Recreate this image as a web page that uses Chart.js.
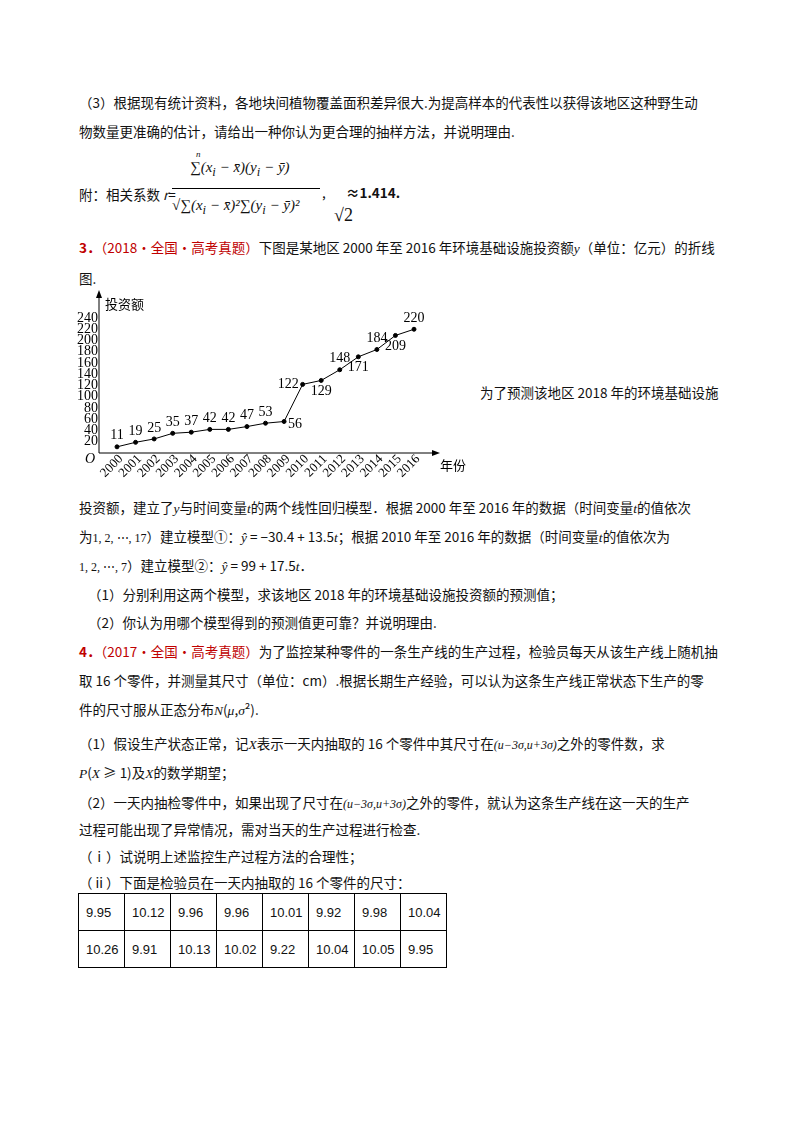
<!DOCTYPE html>
<html><head><meta charset="utf-8">
<script src="https://cdn.jsdelivr.net/npm/chart.js@4"></script>
<style>
body{margin:0;width:800px;height:1132px;background:#fff;font-family:"Noto Sans CJK SC","Noto Sans",sans-serif;color:#111;position:relative;overflow:hidden}
.t{position:absolute;font-size:13.5px;white-space:nowrap;line-height:1}
.m{font-family:"Liberation Serif",serif;font-style:italic}
.red{color:#c00000}
table{position:absolute;left:78px;top:893px;border-collapse:collapse;font-size:13px;font-family:"Liberation Sans",sans-serif}
td{border:1px solid #000;width:38px;height:36px;padding:0 0 0 7px}
#wrap{position:absolute;left:75px;top:290px;width:400px;height:200px}
</style></head><body>
<div class="t" style="left:79px;top:96px">（3）根据现有统计资料，各地块间植物覆盖面积差异很大.为提高样本的代表性以获得该地区这种野生动</div>
<div class="t" style="left:79px;top:125px">物数量更准确的估计，请给出一种你认为更合理的抽样方法，并说明理由.</div>
<div class="t" style="left:79px;top:188px">附：相关系数 <i>r</i>=</div>
<div class="t m" style="left:190px;top:160px;font-size:15px">∑(x<sub>i</sub> − x̄)(y<sub>i</sub> − ȳ)</div>
<div class="t m" style="left:196px;top:150px;font-size:9px">n</div>
<div style="position:absolute;left:172px;top:188px;width:148px;border-top:1px solid #000"></div>
<div class="t m" style="left:172px;top:198px;font-size:15px">√∑(x<sub>i</sub> − x̄)²∑(y<sub>i</sub> − ȳ)²</div>
<div class="t" style="left:322px;top:186px">,</div>
<div class="t" style="left:346px;top:186px;font-weight:bold">≈1.414.</div>
<div class="t m" style="left:334px;top:206px;font-size:18px;font-style:normal">√2</div>
<div class="t" style="left:79px;top:241px"><b class="red">3．</b><span class="red">（2018·全国·高考真题）</span>下图是某地区 2000 年至 2016 年环境基础设施投资额<span class="m">y</span>（单位：亿元）的折线</div>
<div class="t" style="left:79px;top:272px">图.</div>
<div class="t" style="left:480px;top:386px">为了预测该地区 2018 年的环境基础设施</div>
<div class="t" style="left:79px;top:501px">投资额，建立了<span class="m">y</span>与时间变量<span class="m">t</span>的两个线性回归模型．根据 2000 年至 2016 年的数据（时间变量<span class="m">t</span>的值依次</div>
<div class="t" style="left:79px;top:530px">为<span class="m" style="font-style:normal;font-size:12px">1, 2, ⋯, 17</span>）建立模型①：<span class="m">ŷ</span> = −30.4 + 13.5<span class="m">t</span>；根据 2010 年至 2016 年的数据（时间变量<span class="m">t</span>的值依次为</div>
<div class="t" style="left:79px;top:559px"><span class="m" style="font-style:normal;font-size:12px">1, 2, ⋯, 7</span>）建立模型②：<span class="m">ŷ</span> = 99 + 17.5<span class="m">t</span>．</div>
<div class="t" style="left:88px;top:588px">（1）分别利用这两个模型，求该地区 2018 年的环境基础设施投资额的预测值；</div>
<div class="t" style="left:88px;top:616px">（2）你认为用哪个模型得到的预测值更可靠？并说明理由.</div>
<div class="t" style="left:79px;top:645px"><b class="red">4．</b><span class="red">（2017·全国·高考真题）</span>为了监控某种零件的一条生产线的生产过程，检验员每天从该生产线上随机抽</div>
<div class="t" style="left:79px;top:674px">取 16 个零件，并测量其尺寸（单位：cm）.根据长期生产经验，可以认为这条生产线正常状态下生产的零</div>
<div class="t" style="left:79px;top:703px">件的尺寸服从正态分布<span class="m">N</span>(<span class="m">μ</span>,<span class="m">σ</span>²).</div>
<div class="t" style="left:79px;top:737px">（1）假设生产状态正常，记<span class="m">X</span>表示一天内抽取的 16 个零件中其尺寸在<span class="m" style="font-size:12px">(u−3σ,u+3σ)</span>之外的零件数，求</div>
<div class="t" style="left:79px;top:766px"><span class="m">P</span>(<span class="m">X</span> ≥ 1)及<span class="m">X</span>的数学期望；</div>
<div class="t" style="left:79px;top:796px">（2）一天内抽检零件中，如果出现了尺寸在<span class="m" style="font-size:12px">(u−3σ,u+3σ)</span>之外的零件，就认为这条生产线在这一天的生产</div>
<div class="t" style="left:79px;top:823px">过程可能出现了异常情况，需对当天的生产过程进行检查.</div>
<div class="t" style="left:79px;top:850px">（ⅰ）试说明上述监控生产过程方法的合理性；</div>
<div class="t" style="left:79px;top:876px">（ⅱ）下面是检验员在一天内抽取的 16 个零件的尺寸：</div>
<table>
<tr><td>9.95</td><td>10.12</td><td>9.96</td><td>9.96</td><td>10.01</td><td>9.92</td><td>9.98</td><td>10.04</td></tr>
<tr><td>10.26</td><td>9.91</td><td>10.13</td><td>10.02</td><td>9.22</td><td>10.04</td><td>10.05</td><td>9.95</td></tr>
</table>
<div id="wrap"><canvas id="c" width="400" height="200"></canvas></div>
<script>
const years=['2000','2001','2002','2003','2004','2005','2006','2007','2008','2009','2010','2011','2012','2013','2014','2015','2016'];
const invest=[11,19,25,35,37,42,42,47,53,56,122,129,148,171,184,209,220];
const yTicks=[20,40,60,80,100,120,140,160,180,200,220,240];
const labelPos=['a','a','a','a','a','a','a','a','a','r','l','b','a','b','a','b','a'];
const serif='"Liberation Serif",serif';
const deco={id:'deco',afterDatasetsDraw(ch){
 const c=ch.ctx,x=ch.scales.x,y=ch.scales.y;const x0=x.left-18,y0=y.getPixelForValue(0);
 c.save();c.strokeStyle='#000';c.fillStyle='#000';c.lineWidth=1;
 c.beginPath();c.moveTo(x0,y0);c.lineTo(x.right+22,y0);c.moveTo(x0,y0);c.lineTo(x0,4);c.stroke();
 c.beginPath();c.moveTo(x.right+26,y0);c.lineTo(x.right+18,y0-3);c.lineTo(x.right+18,y0+3);c.fill();
 c.beginPath();c.moveTo(x0,0);c.lineTo(x0-3,8);c.lineTo(x0+3,8);c.fill();
 c.font='14px '+serif;c.textAlign='right';c.textBaseline='middle';
 yTicks.forEach(v=>c.fillText(String(v),x0-1,y.getPixelForValue(v)));
 c.font='italic 14px '+serif;c.fillText('O',x0-4,y0+6);
 c.font='13px "Noto Sans CJK SC"';c.textAlign='left';c.fillText('投资额',x0+6,14);c.fillText('年份',x.right+26,y0+12);
 c.font='13px '+serif;
 years.forEach((yr,i)=>{const px=x.getPixelForValue(i);c.save();c.translate(px+4,y0+4);c.rotate(-Math.PI/4);c.textAlign='right';c.fillText(yr,0,0);c.restore();});
 c.font='14px '+serif;
 invest.forEach((v,i)=>{const px=x.getPixelForValue(i),py=y.getPixelForValue(v);const p=labelPos[i];
  if(p==='a'){c.textAlign='center';c.fillText(String(v),px,py-11);}
  else if(p==='b'){c.textAlign='center';c.fillText(String(v),px,py+11);}
  else if(p==='r'){c.textAlign='left';c.fillText(String(v),px+4,py+3);}
  else {c.textAlign='right';c.fillText(String(v),px-4,py);}
 });
 c.restore();}};
new Chart(document.getElementById('c'),{type:'line',
 data:{labels:years,datasets:[{data:invest,borderColor:'#000',borderWidth:1,pointRadius:2,pointBackgroundColor:'#000',pointBorderColor:'#000',tension:0}]},
 options:{responsive:false,animation:false,layout:{padding:{left:42,right:61,top:28,bottom:37}},
  plugins:{legend:{display:false},tooltip:{enabled:false}},
  scales:{x:{display:false,offset:false},y:{display:false,min:0,max:240}}},
 plugins:[deco]});
</script>
</body></html>
